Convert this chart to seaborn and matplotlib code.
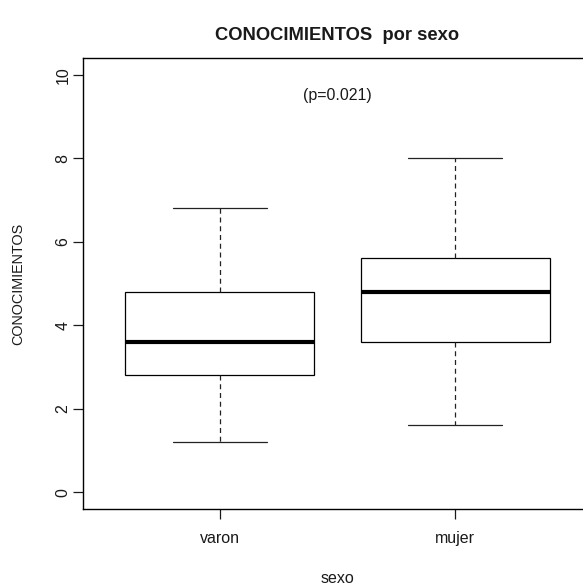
import matplotlib
matplotlib.use("Agg")
import matplotlib.pyplot as plt
import pandas as pd
import seaborn as sns

# five-number summaries: min, Q1, median, Q3, max
sexo = ["varon", "mujer"]
varon = [1.2, 2.8, 3.6, 4.8, 6.8]
mujer = [1.6, 3.6, 4.8, 5.6, 8.0]
yticks = [0, 2, 4, 6, 8, 10]
p_text = "(p=0.021)"

df = pd.DataFrame({
    "sexo": [sexo[0]] * len(varon) + [sexo[1]] * len(mujer),
    "CONOCIMIENTOS": varon + mujer,
})

sns.set_style("ticks")
plt.rcParams["font.family"] = ["Liberation Sans", "DejaVu Sans"]
plt.rcParams["font.size"] = 11.5
plt.rcParams["text.color"] = "#1a1a1a"
plt.rcParams["axes.labelcolor"] = "#1a1a1a"
plt.rcParams["xtick.color"] = "#1a1a1a"
plt.rcParams["ytick.color"] = "#1a1a1a"

fig = plt.figure(figsize=(5.83, 5.86), dpi=100)
# R leaves the right side of the box past the edge of the picture
ax = fig.add_axes([0.1424, 0.1314, 0.873, 0.7696])

sns.boxplot(data=df, x="sexo", y="CONOCIMIENTOS", order=sexo, ax=ax,
            width=0.8, whis=1.5, color="white", saturation=1,
            linecolor="black", linewidth=0.9,
            medianprops=dict(linewidth=3.0, color="black"),
            whiskerprops=dict(linestyle=(0, (4, 3)), color="#222222"),
            capprops=dict(color="#222222"))

ax.set_xlim(-0.58, 1.58)
ax.set_ylim(-0.4, 10.4)
ax.set_yticks(yticks)
ax.set_yticklabels([str(t) for t in yticks], rotation=90, va="center")
ax.tick_params(axis="both", length=7, width=0.9, labelsize=11.5)
ax.tick_params(axis="y", pad=2)
ax.tick_params(axis="x", pad=9)
for s in ax.spines.values():
    s.set_linewidth(1.0)
    s.set_color("black")

ax.text(0.5, 9.5, p_text, ha="center", va="center", fontsize=11.5)

ax.set_xlabel("sexo", fontsize=11.5)
ax.set_ylabel("CONOCIMIENTOS", fontsize=10.4)
ax.xaxis.set_label_coords(0.5, -0.138)
ax.yaxis.set_label_coords(-0.114, 0.5)
ax.set_title("CONOCIMIENTOS  por sexo", fontsize=13.2, fontweight="bold", pad=13)

fig.savefig("out.png", dpi=100)
